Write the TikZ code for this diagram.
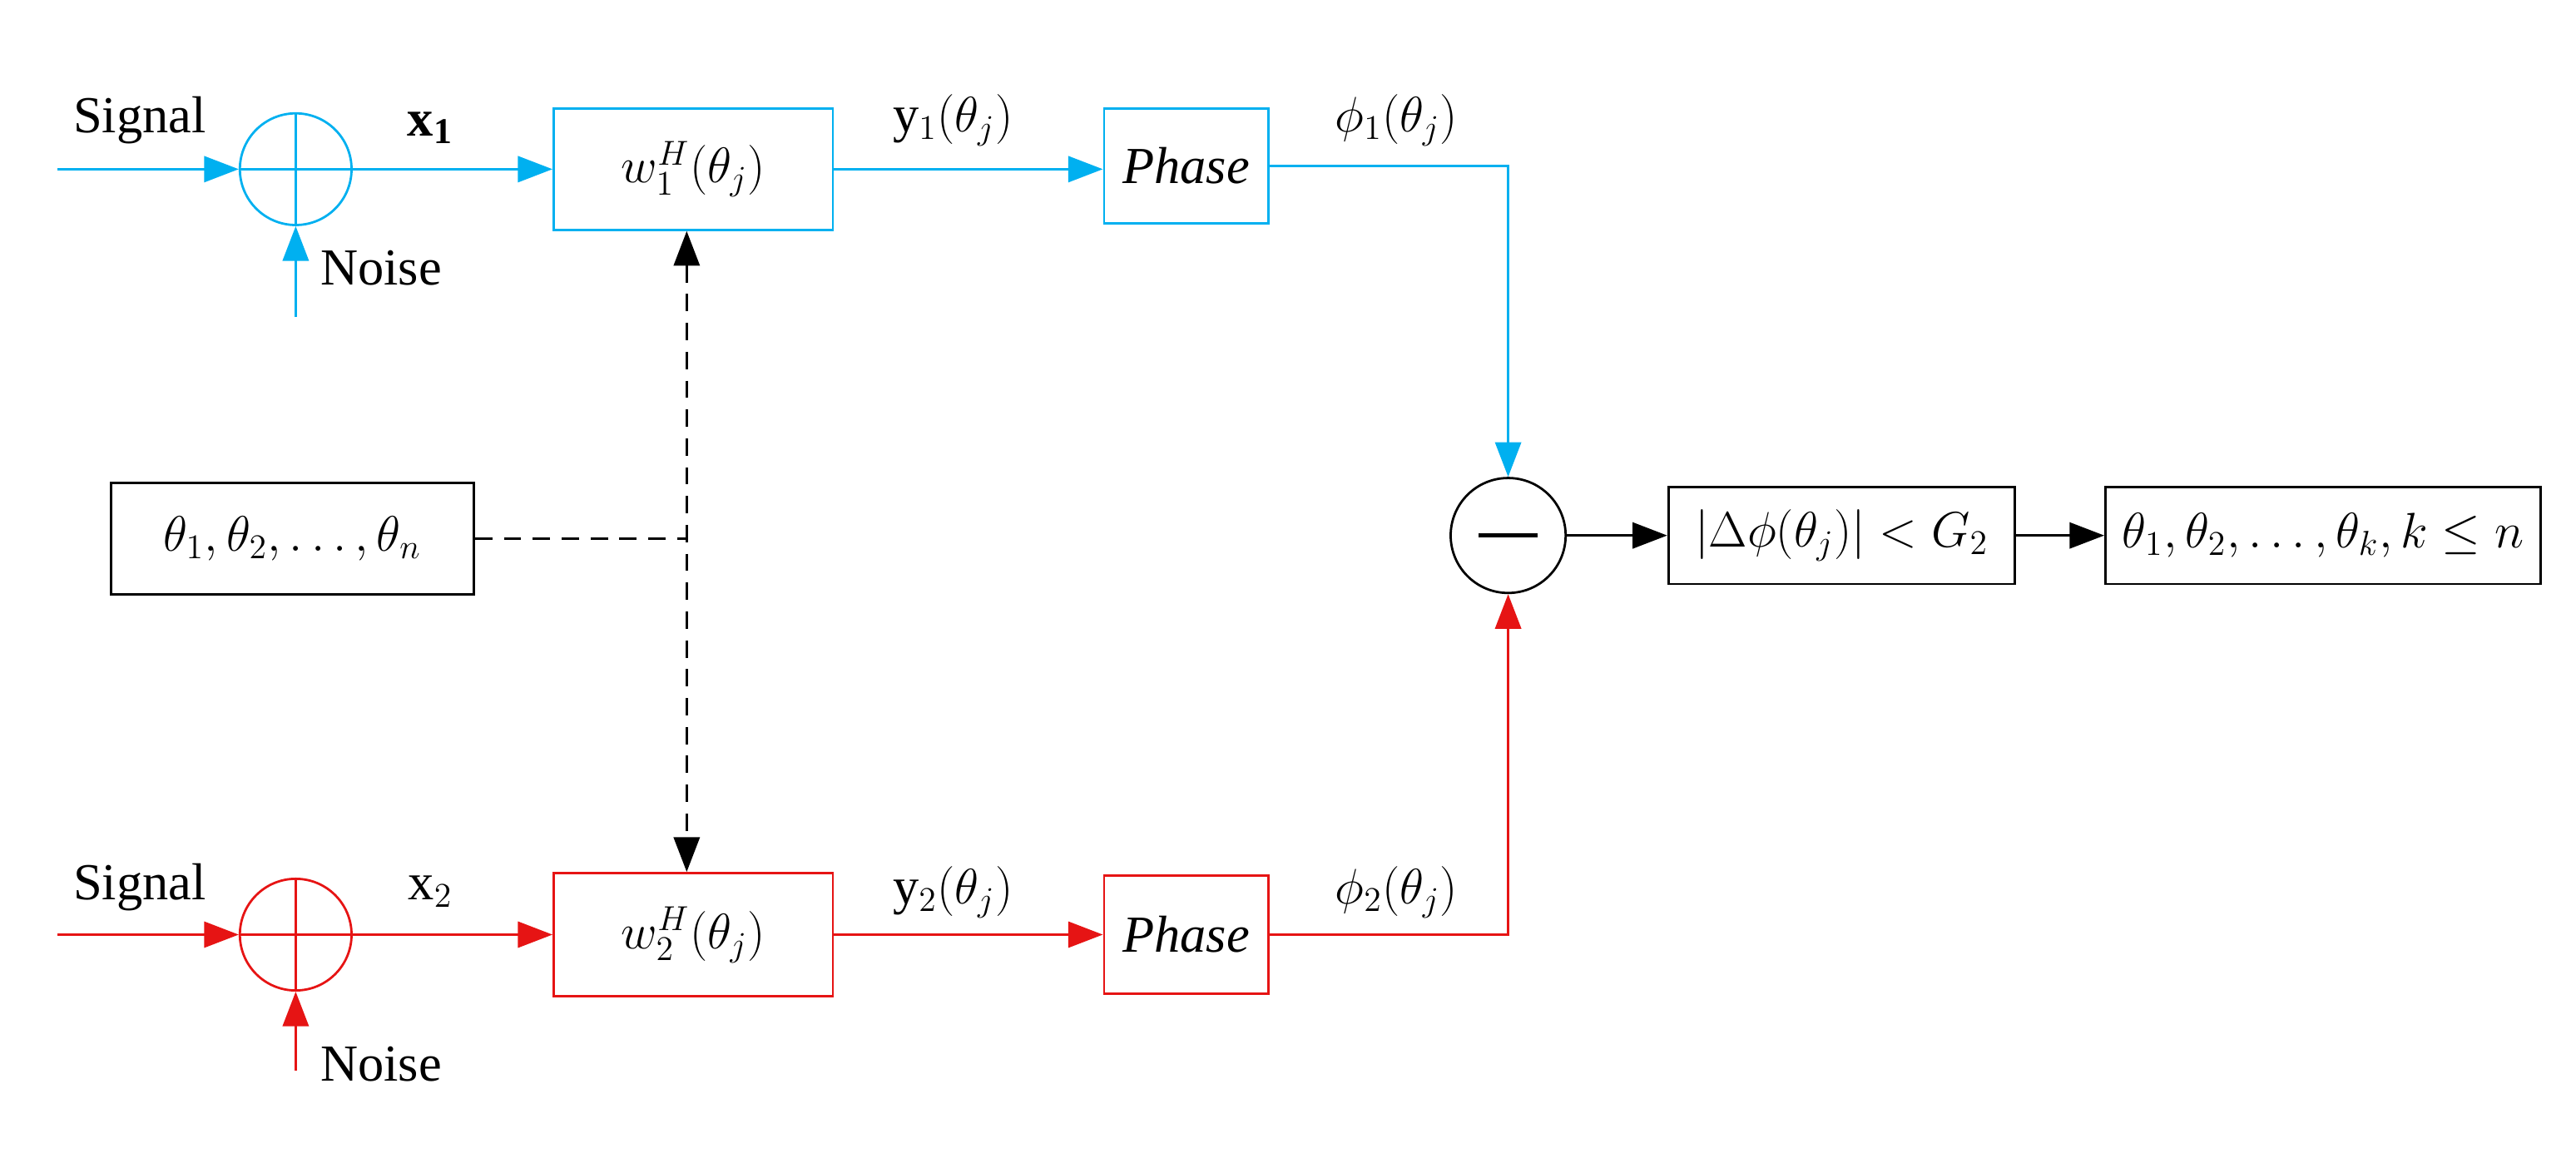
\documentclass[tikz,border=0pt]{standalone}
\usepackage{fontspec}
\setmainfont{Liberation Serif}
\usetikzlibrary{arrows.meta}
\definecolor{cb}{RGB}{0,176,240}
\definecolor{rd}{RGB}{230,20,20}
\begin{document}
\begin{tikzpicture}[x=0.02cm,y=-0.02cm,font=\fontsize{18}{22}\selectfont,
  arr/.style={-{Triangle[length=12pt,width=9pt]},line width=0.8pt},
  box/.style={draw,line width=0.8pt,inner sep=0pt},
  lbl/.style={inner sep=1pt}]
\useasboundingbox (0,0) rectangle (1568,704.5);
% top chain
\begin{scope}[cb]
\node[circle,draw,line width=0.8pt,minimum size=1.36cm,inner sep=0pt] (c1) at (180,103) {};
\draw[line width=0.8pt] (c1.north)--(c1.south) (c1.west)--(c1.east);
\coordinate (s1) at (35,103); \coordinate (n1) at (180,193);
\node[box,text=black,minimum width=3.4cm,minimum height=1.48cm] (w1) at (422,103) {$w_1^H(\theta_j)$};
\node[box,text=black,minimum width=2cm,minimum height=1.4cm] (p1) at (722,101) {\textit{Phase}};
\draw[arr] (s1)--(c1); \draw[arr] (n1)--(c1);
\draw[arr] (c1)--(w1); \draw[arr] (w1)--(p1.west|-w1);
\coordinate (k1) at (918,101);
\end{scope}
\node[lbl] at (85,73) {Signal};
\node[lbl] at (232,163) {Noise};
\node[lbl] at (262,78) {$\mathbf{x_1}$};
\node[lbl] at (580,73) {y$_1(\theta_j)$};
\node[lbl] at (850,73) {$\phi_1(\theta_j)$};
% bottom chain
\begin{scope}[rd]
\node[circle,draw,line width=0.8pt,minimum size=1.36cm,inner sep=0pt] (c2) at (180,569) {};
\draw[line width=0.8pt] (c2.north)--(c2.south) (c2.west)--(c2.east);
\coordinate (s2) at (35,569); \coordinate (n2) at (180,652);
\node[box,text=black,minimum width=3.4cm,minimum height=1.5cm] (w2) at (422,569) {$w_2^H(\theta_j)$};
\node[box,text=black,minimum width=2cm,minimum height=1.44cm] (p2) at (722,569) {\textit{Phase}};
\draw[arr] (s2)--(c2); \draw[arr] (n2)--(c2);
\draw[arr] (c2)--(w2); \draw[arr] (w2)--(p2);
\coordinate (k2) at (918,569);
\end{scope}
\node[lbl] at (85,540) {Signal};
\node[lbl] at (232,648) {Noise};
\node[lbl] at (262,543) {x$_2$};
\node[lbl] at (580,543) {y$_2(\theta_j)$};
\node[lbl] at (850,543) {$\phi_2(\theta_j)$};
% minus and outputs
\node[circle,draw,line width=0.8pt,minimum size=1.4cm,inner sep=0pt] (m) at (918,326) {};
\draw[line width=1.3pt] ([xshift=-0.36cm]m.center)--([xshift=0.36cm]m.center);
\draw[cb,arr] (p1.east|-k1)--(k1)--(m.north);
\draw[rd,arr] (p2)--(k2)--(m.south);
\node[box,minimum width=4.22cm,minimum height=1.18cm] (d) at (1121,326) {$\Bigl|\Delta\phi(\theta_j)\Bigr|<G_2$};
\node[box,minimum width=5.3cm,minimum height=1.18cm] (o) at (1414,326) {$\theta_1,\theta_2,\ldots,\theta_k,k\le n$};
\draw[arr] (m)--(d); \draw[arr] (d)--(o);
% theta box and dashed
\node[box,minimum width=4.42cm,minimum height=1.36cm] (t) at (178,328) {$\theta_1,\theta_2,\ldots,\theta_n$};
\coordinate (j) at (418,328);
\draw[line width=0.8pt,dash pattern=on 6pt off 4pt] (t.east)--(j);
\draw[line width=0.8pt,dash pattern=on 6pt off 4pt,{Triangle[length=12pt,width=9pt]}-{Triangle[length=12pt,width=9pt]}] (w1.south-|j)--(w2.north-|j);
\end{tikzpicture}
\end{document}
